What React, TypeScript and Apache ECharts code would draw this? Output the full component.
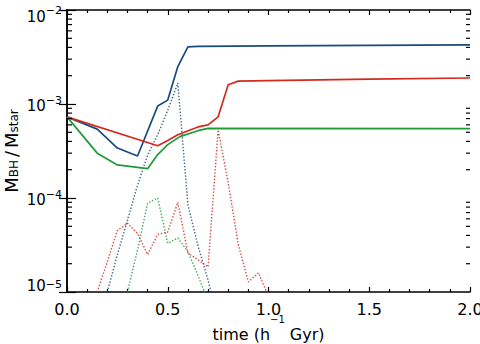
import { useEffect, useRef } from "react";
import * as echarts from "echarts";

// Black-hole to stellar mass ratio versus time, three runs.
// Solid lines: cumulative ratio; dotted lines: instantaneous ratio.
const timeBlue = [0, 0.15, 0.25, 0.35, 0.45, 0.5, 0.55, 0.6, 0.65, 1.0, 1.5, 2.0];
const ratioBlue = [7.3e-4, 5.4e-4, 3.4e-4, 2.8e-4, 9.5e-4, 1.1e-3, 2.5e-3, 4.05e-3, 4.1e-3, 4.15e-3, 4.2e-3, 4.25e-3];

const timeRed = [0, 0.45, 0.5, 0.55, 0.65, 0.7, 0.75, 0.8, 0.85, 1.0, 1.5, 2.0];
const ratioRed = [7.3e-4, 3.6e-4, 4.1e-4, 4.7e-4, 5.7e-4, 6.0e-4, 7.3e-4, 1.6e-3, 1.75e-3, 1.77e-3, 1.84e-3, 1.89e-3];

const timeGreen = [0, 0.15, 0.25, 0.4, 0.45, 0.5, 0.56, 0.65, 0.7, 2.0];
const ratioGreen = [7.3e-4, 3.0e-4, 2.25e-4, 2.05e-4, 2.9e-4, 3.7e-4, 4.5e-4, 5.2e-4, 5.5e-4, 5.48e-4];

const timeBlueDot = [0.2, 0.25, 0.3, 0.35, 0.4, 0.45, 0.5, 0.55, 0.6, 0.65, 0.7, 0.75];
const rateBlueDot = [1.0e-5, 2.5e-5, 5.8e-5, 1.37e-4, 2.86e-4, 4.7e-4, 8.6e-4, 1.67e-3, 8.5e-5, 3.1e-5, 1.34e-5, 5e-6];

const timeGreenDot = [0.3, 0.35, 0.4, 0.45, 0.5, 0.55, 0.6, 0.65, 0.7];
const rateGreenDot = [1.0e-5, 2.8e-5, 8.8e-5, 1.0e-4, 3.3e-5, 3.75e-5, 2.7e-5, 1.5e-5, 8e-6];

const timeRedDot = [0.15, 0.2, 0.25, 0.3, 0.35, 0.4, 0.45, 0.5, 0.55, 0.6, 0.65, 0.7, 0.75, 0.8, 0.85, 0.9, 0.95, 1.0];
const rateRedDot = [1.0e-5, 2.1e-5, 4.5e-5, 5.4e-5, 4.2e-5, 2.5e-5, 4.1e-5, 4.35e-5, 9.0e-5, 2.6e-5, 2.2e-5, 1.85e-5, 5.3e-4, 1.45e-4, 3.2e-5, 1.28e-5, 1.6e-5, 9e-6];

// Log-axis minor tick positions (2..9 in each decade)
const decades = [1e-5, 1e-4, 1e-3];
const mantissas = [2, 3, 4, 5, 6, 7, 8, 9];
const minorTicksY = decades.flatMap((d) => mantissas.map((m) => m * d));

const FONT = "DejaVu Sans";
const BLUE = "#1b4a7e";
const RED = "#d42a1e";
const GREEN = "#1f9a38";

const zip = (t: number[], v: number[]) => t.map((x, i) => [x, v[i]]);

export default function App() {
  const ref = useRef<HTMLDivElement>(null);

  useEffect(() => {
    const chart = echarts.init(ref.current!, null, { renderer: "svg" });

    const axisLine = { show: true, lineStyle: { color: "#000", width: 1.5 } };

    const solid = (name: string, t: number[], v: number[], color: string) => ({
      name,
      type: "line",
      data: zip(t, v),
      showSymbol: false,
      symbol: "none",
      lineStyle: { color, width: 1.7 },
      z: 3,
    });
    const dotted = (name: string, t: number[], v: number[], color: string) => ({
      name,
      type: "line",
      data: zip(t, v),
      showSymbol: false,
      symbol: "none",
      lineStyle: { color, width: 1.4, type: [1.4, 1.8], opacity: 0.85 },
      z: 2,
    });

    // Decade labels as 10 with a raised exponent; the end labels sit inside the frame
    const yLabel = (v: number) => {
      const e = Math.round(Math.log10(v));
      const sup = "\u2212" + String(-e);
      if (e === -5) return `{spl| }{bl|10}{sl|${sup}}`;
      if (e === -2) return `{sph| }{bh|10}{sh|${sup}}`;
      return `{b|10}{s|${sup}}`;
    };

    const base = { fontFamily: FONT, color: "#000" };

    chart.setOption({
      animation: false,
      backgroundColor: "#fff",
      grid: { left: 67, top: 10, right: 10, bottom: 52, containLabel: false, outerBoundsMode: "none" },
      xAxis: [
        {
          type: "value",
          position: "bottom",
          min: 0,
          max: 2,
          interval: 0.5,
          axisLine,
          axisTick: { show: true, inside: true, length: 5, lineStyle: { color: "#000", width: 1.2 } },
          minorTick: { show: true, splitNumber: 5, length: 3, lineStyle: { color: "#000", width: 1.2 } },
          splitLine: { show: false },
          minorSplitLine: { show: false },
          axisLabel: { ...base, fontSize: 16, margin: 9, formatter: (v: number) => v.toFixed(1) },
          name: "{t|time (h}{sup|\u22121}{t| Gyr)}",
          nameLocation: "middle",
          nameGap: 22,
          nameMoveOverlap: false,
          nameTextStyle: {
            ...base,
            rich: {
              t: { ...base, fontSize: 16, lineHeight: 28, verticalAlign: "bottom" },
              sup: { ...base, fontSize: 10, lineHeight: 10, verticalAlign: "top" },
            },
          },
        },
        {
          type: "value",
          position: "top",
          min: 0,
          max: 2,
          interval: 0.5,
          axisLine,
          axisTick: { show: true, inside: true, length: 5, lineStyle: { color: "#000", width: 1.2 } },
          minorTick: { show: true, splitNumber: 5, length: 3, lineStyle: { color: "#000", width: 1.2 } },
          splitLine: { show: false },
          axisLabel: { show: false },
        },
      ],
      yAxis: [
        {
          type: "log",
          logBase: 10,
          position: "left",
          min: 1e-5,
          max: 1e-2,
          axisLine,
          axisTick: { show: true, inside: true, length: 9, lineStyle: { color: "#000", width: 1.2 } },
          splitLine: { show: false },
          axisLabel: {
            ...base,
            margin: 5,
            formatter: yLabel,
            rich: {
              b: { ...base, fontSize: 15, lineHeight: 18, verticalAlign: "bottom" },
              s: { ...base, fontSize: 11, lineHeight: 11, verticalAlign: "top" },
              spl: { ...base, fontSize: 1, lineHeight: 27 },
              bl: { ...base, fontSize: 15, lineHeight: 18, verticalAlign: "top" },
              sl: { ...base, fontSize: 11, lineHeight: 11, verticalAlign: "top" },
              sph: { ...base, fontSize: 1, lineHeight: 29 },
              bh: { ...base, fontSize: 15, lineHeight: 18, verticalAlign: "bottom" },
              sh: { ...base, fontSize: 11, lineHeight: 11, verticalAlign: "middle" },
            },
          },
          name: "{m|M}{sub|BH}{sl|/}{m|M}{sub|star}",
          nameLocation: "middle",
          nameRotate: 90,
          nameGap: 47,
          nameMoveOverlap: false,
          nameTextStyle: {
            ...base,
            rich: {
              m: { ...base, fontSize: 18, lineHeight: 22, verticalAlign: "bottom" },
              sl: { ...base, fontSize: 18, lineHeight: 22, verticalAlign: "bottom", padding: [0, 3, 0, 3] },
              sub: { ...base, fontSize: 12, lineHeight: 14, verticalAlign: "bottom" },
            },
          },
        },
        {
          type: "log",
          logBase: 10,
          position: "right",
          min: 1e-5,
          max: 1e-2,
          axisLine,
          axisTick: { show: true, inside: true, length: 8, lineStyle: { color: "#000", width: 1.2 } },
          splitLine: { show: false },
          axisLabel: { show: false },
        },
      ],
      series: [
        dotted("blue rate", timeBlueDot, rateBlueDot, BLUE),
        dotted("green rate", timeGreenDot, rateGreenDot, GREEN),
        dotted("red rate", timeRedDot, rateRedDot, RED),
        solid("blue", timeBlue, ratioBlue, BLUE),
        solid("red", timeRed, ratioRed, RED),
        solid("green", timeGreen, ratioGreen, GREEN),
        {
          name: "minor ticks",
          type: "custom",
          silent: true,
          z: 5,
          data: minorTicksY.map((v) => [0, v]),
          renderItem: (params: any, api: any) => {
            const p = api.coord([0, api.value(1)]);
            const cs = params.coordSys;
            const style = { stroke: "#000", lineWidth: 1.2 };
            return {
              type: "group",
              children: [
                { type: "line", shape: { x1: cs.x, y1: p[1], x2: cs.x + 5, y2: p[1] }, style },
                { type: "line", shape: { x1: cs.x + cs.width - 4, y1: p[1], x2: cs.x + cs.width, y2: p[1] }, style },
              ],
            };
          },
        },
      ],
    });

    return () => chart.dispose();
  }, []);

  return (
    <div
      ref={ref}
      style={{ position: "absolute", left: 0, top: 0, width: 480, height: 344, background: "#fff" }}
    />
  );
}
